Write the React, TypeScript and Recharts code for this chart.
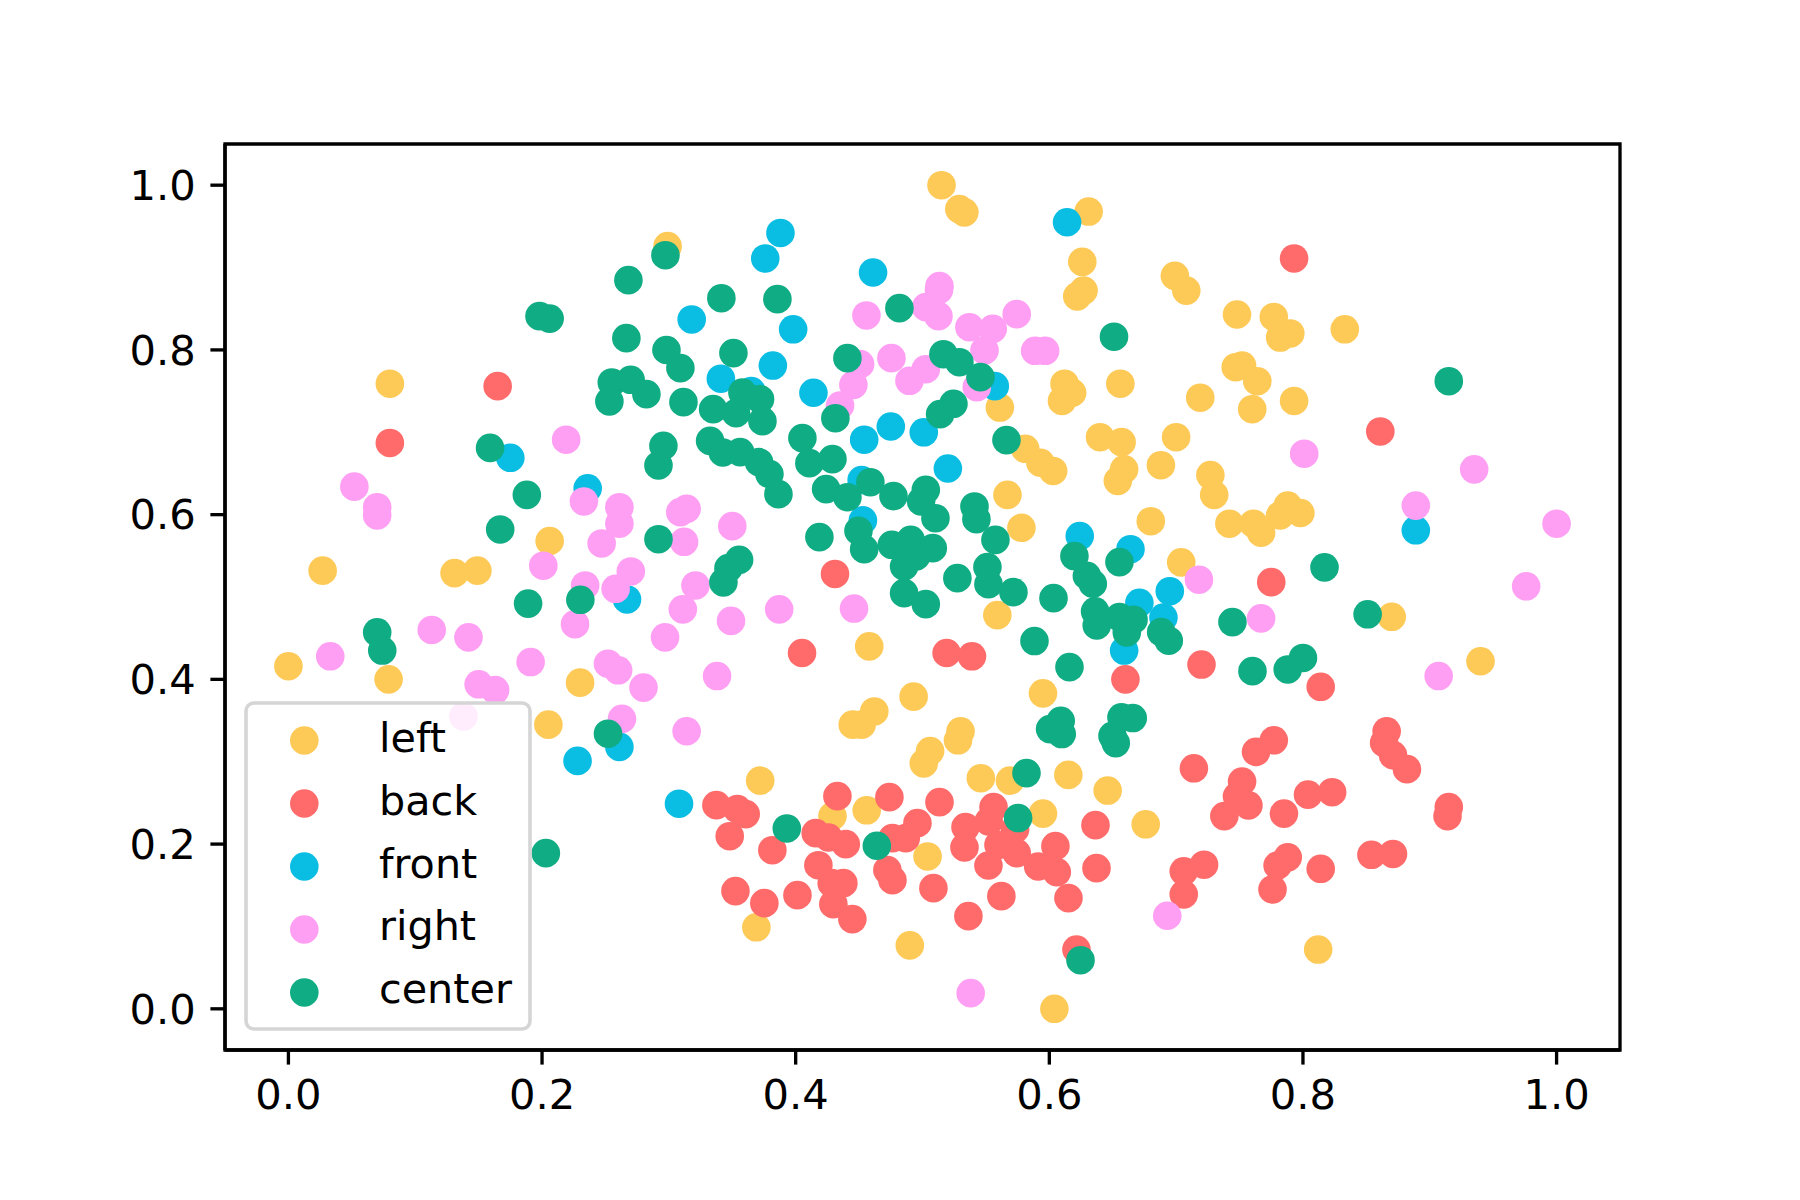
import React from "react";
import { ScatterChart, Scatter, XAxis, YAxis, ReferenceArea, Legend } from "recharts";

const tickValues = [0, 0.2, 0.4, 0.6, 0.8, 1.0];
const seriesNames = ["left", "back", "front", "right", "center"];
const seriesColors = ["#FECA57", "#FF6B6B", "#0ABDE3", "#FF9FF3", "#10AC84"];

const leftPoints = [
  [0.515,1.0],[0.529,0.971],[0.533,0.967],[0.631,0.968],[0.626,0.907],[0.627,0.872],[0.622,0.865],[0.299,0.926],
  [0.699,0.89],[0.708,0.872],[0.748,0.843],[0.777,0.84],[0.79,0.82],[0.782,0.815],[0.833,0.825],[0.656,0.759],
  [0.612,0.759],[0.618,0.748],[0.61,0.738],[0.719,0.742],[0.747,0.779],[0.752,0.781],[0.764,0.762],[0.76,0.728],
  [0.793,0.738],[0.561,0.73],[0.64,0.694],[0.657,0.688],[0.7,0.694],[0.581,0.68],[0.593,0.663],[0.603,0.653],
  [0.659,0.655],[0.654,0.641],[0.688,0.66],[0.727,0.648],[0.73,0.624],[0.567,0.624],[0.578,0.584],[0.68,0.592],
  [0.742,0.589],[0.761,0.589],[0.767,0.578],[0.782,0.599],[0.788,0.611],[0.798,0.602],[0.704,0.542],[0.559,0.478],
  [0.87,0.476],[0.94,0.422],[0.458,0.44],[0.206,0.568],[0.027,0.532],[0.131,0.529],[0.149,0.532],[0.08,0.759],
  [0,0.416],[0.079,0.4],[0.23,0.396],[0.205,0.345],[0.493,0.379],[0.595,0.383],[0.445,0.345],[0.452,0.345],
  [0.462,0.361],[0.53,0.337],[0.528,0.326],[0.506,0.313],[0.501,0.298],[0.372,0.277],[0.546,0.28],[0.569,0.277],
  [0.615,0.284],[0.646,0.265],[0.676,0.224],[0.595,0.237],[0.456,0.241],[0.429,0.234],[0.504,0.185],[0.369,0.099],
  [0.49,0.077],[0.604,0],[0.812,0.072],
];

const backPoints = [
  [0.793,0.911],[0.165,0.756],[0.08,0.687],[0.861,0.701],[0.431,0.528],[0.775,0.518],[0.405,0.432],[0.519,0.432],
  [0.539,0.428],[0.66,0.4],[0.72,0.418],[0.814,0.391],[0.866,0.337],[0.864,0.323],[0.871,0.308],[0.882,0.291],
  [0.777,0.326],[0.763,0.312],[0.714,0.292],[0.752,0.276],[0.748,0.258],[0.757,0.247],[0.738,0.234],[0.785,0.237],
  [0.804,0.26],[0.823,0.263],[0.915,0.245],[0.914,0.234],[0.854,0.187],[0.871,0.188],[0.814,0.17],[0.788,0.184],
  [0.78,0.174],[0.776,0.145],[0.722,0.175],[0.706,0.167],[0.706,0.139],[0.3375,0.2473],[0.354,0.2424],[0.3606,0.2364],
  [0.348,0.2096],[0.3816,0.1926],[0.4158,0.2133],[0.4258,0.208],[0.4395,0.1999],[0.4329,0.2582],[0.4739,0.257],
  [0.496,0.2254],[0.5134,0.2509],[0.4763,0.2072],[0.4868,0.2072],[0.5339,0.2206],[0.5331,0.1959],[0.556,0.2449],
  [0.5522,0.2275],[0.573,0.2181],[0.5599,0.1991],[0.5743,0.189],[0.552,0.174],[0.5912,0.1728],[0.6048,0.1975],
  [0.6059,0.166],[0.6364,0.223],[0.6372,0.1708],[0.6151,0.1344],[0.5622,0.1368],[0.5362,0.1125],[0.5086,0.1465],
  [0.4763,0.1562],[0.4723,0.1684],[0.4179,0.1744],[0.4284,0.1526],[0.4376,0.1526],[0.4297,0.1271],[0.4447,0.1089],
  [0.4014,0.138],[0.3753,0.1283],[0.3525,0.1429],[0.6214,0.072],
];

const frontPoints = [
  [0.614,0.955],[0.388,0.942],[0.376,0.911],[0.461,0.894],[0.318,0.837],[0.398,0.825],[0.341,0.765],[0.382,0.781],
  [0.414,0.748],[0.557,0.756],[0.454,0.691],[0.475,0.707],[0.501,0.7],[0.52,0.656],[0.175,0.669],[0.236,0.632],
  [0.452,0.642],[0.453,0.593],[0.624,0.574],[0.664,0.558],[0.889,0.581],[0.671,0.493],[0.695,0.507],[0.69,0.475],
  [0.659,0.435],[0.267,0.497],[0.228,0.301],[0.261,0.318],[0.308,0.249],[0.365,0.75],
];

const rightPoints = [
  [0.052,0.634],[0.07,0.609],[0.07,0.599],[0.219,0.691],[0.233,0.616],[0.261,0.609],[0.261,0.589],[0.247,0.565],
  [0.201,0.538],[0.234,0.514],[0.27,0.531],[0.258,0.51],[0.309,0.603],[0.314,0.607],[0.312,0.567],[0.35,0.586],
  [0.321,0.514],[0.311,0.485],[0.349,0.471],[0.387,0.485],[0.297,0.451],[0.226,0.467],[0.113,0.46],[0.142,0.451],
  [0.191,0.421],[0.033,0.428],[0.15,0.394],[0.163,0.387],[0.138,0.355],[0.252,0.419],[0.26,0.411],[0.28,0.39],
  [0.263,0.352],[0.338,0.404],[0.314,0.337],[0.446,0.486],[0.718,0.521],[0.767,0.474],[0.801,0.674],[0.889,0.611],
  [0.935,0.655],[1.0,0.589],[0.976,0.513],[0.907,0.404],[0.693,0.113],[0.538,0.019],[0.4558,0.8418],[0.5134,0.8774],
  [0.513,0.873],[0.5028,0.8519],[0.5126,0.841],[0.537,0.8276],[0.5554,0.8256],[0.5743,0.8434],[0.5489,0.7993],
  [0.5888,0.7989],[0.5967,0.7989],[0.4508,0.7827],[0.4455,0.7576],[0.435,0.7325],[0.4755,0.79],[0.5026,0.7766],
  [0.4897,0.7625],[0.5428,0.7548],
];

const centerPoints = [
  [0.2973,0.915],[0.2681,0.8847],[0.3414,0.8628],[0.3856,0.8616],[0.4818,0.8507],[0.206,0.838],[0.198,0.841],
  [0.2665,0.8143],[0.2981,0.7999],[0.3091,0.7779],[0.3509,0.7961],[0.255,0.7605],[0.2699,0.7637],[0.2823,0.7463],
  [0.2531,0.7374],[0.3115,0.7366],[0.3349,0.7281],[0.358,0.7483],[0.3719,0.7402],[0.353,0.7232],[0.3738,0.7135],
  [0.4408,0.79],[0.5165,0.7948],[0.5291,0.7851],[0.5457,0.7669],[0.5244,0.7346],[0.5139,0.722],[0.4313,0.7171],
  [0.5662,0.6905],[0.4053,0.6929],[0.4108,0.6625],[0.429,0.6674],[0.2957,0.6836],[0.2918,0.6597],[0.3325,0.6896],
  [0.3425,0.6755],[0.3562,0.6759],[0.3711,0.6637],[0.3793,0.6492],[0.3864,0.6249],[0.424,0.631],[0.4408,0.6212],
  [0.4589,0.6394],[0.4771,0.6225],[0.5026,0.6301],[0.4989,0.616],[0.5102,0.5957],[0.541,0.6099],[0.5425,0.5945],
  [0.5575,0.5694],[0.4187,0.5727],[0.2918,0.5702],[0.4495,0.5804],[0.454,0.5581],[0.4758,0.5634],[0.4907,0.5694],
  [0.5081,0.5593],[0.4949,0.5492],[0.4855,0.5371],[0.4855,0.5047],[0.5026,0.4913],[0.5275,0.5229],[0.5512,0.5363],
  [0.552,0.5156],[0.5717,0.5059],[0.6033,0.4986],[0.3554,0.5452],[0.347,0.535],[0.343,0.5177],[0.2302,0.4966],
  [0.6198,0.5497],[0.6296,0.5258],[0.6343,0.5161],[0.6553,0.5424],[0.6361,0.4825],[0.6374,0.4655],[0.6553,0.4756],
  [0.6664,0.4724],[0.6611,0.457],[0.6882,0.4574],[0.6942,0.4469],[0.7444,0.4695],[0.5883,0.4465],[0.6159,0.4149],
  [0.7602,0.41],[0.788,0.412],[0.8,0.426],[0.609,0.3497],[0.6006,0.3396],[0.6098,0.3336],[0.6569,0.3538],
  [0.6658,0.353],[0.6498,0.3315],[0.6524,0.3226],[0.582,0.2862],[0.5754,0.2316],[0.915,0.762],[0.651,0.816],
  [0.817,0.536],[0.851,0.479],[0.159,0.681],[0.188,0.624],[0.167,0.582],[0.189,0.492],[0.07,0.457],[0.074,0.435],
  [0.252,0.334],[0.203,0.189],[0.393,0.219],[0.464,0.198],[0.6246,0.059],
];

const seriesPoints = [leftPoints, backPoints, frontPoints, rightPoints, centerPoints];
const toRows = (pts: number[][]) => pts.map(([x, y]) => ({ x, y }));

const FONT = "'DejaVu Sans', sans-serif";
const FS = 41.67;
const LW = 3.33;
const R = 14.3;

const Dot = (props: any) => <circle cx={props.cx} cy={props.cy} r={R} fill={props.fill} />;

function LegendBox() {
  const rowY = [37.5, 100.5, 163.5, 226.5, 289.5];
  const textY = [49, 112, 174.5, 237, 300];
  return (
    <svg width={284} height={326} style={{ display: "block", overflow: "visible" }}>
      <rect x={0} y={0} width={284} height={326} rx={8} ry={8} fill="#fff" fillOpacity={0.8} stroke="#d5d5d5" strokeWidth={3.6} />
      {seriesNames.map((n, i) => (
        <g key={n}>
          <circle cx={58.3} cy={rowY[i]} r={R} fill={seriesColors[i]} />
          <text x={133} y={textY[i]} fontSize={41.3} fontFamily={FONT} fill="#000">{n}</text>
        </g>
      ))}
    </svg>
  );
}

export default function App() {
  return (
    <div style={{ position: "absolute", left: 0, top: 0, width: 1800, height: 1200, background: "#fff" }}>
      <ScatterChart width={1800} height={1200} margin={{ top: 144, right: 180, bottom: 70, left: 95 }}>
        <XAxis
          type="number" dataKey="x" domain={[-0.05, 1.05]} ticks={tickValues} interval={0} height={80}
          tickFormatter={(v: number) => v.toFixed(1)} tick={{ fontSize: FS, fill: "#000", fontFamily: FONT }}
          stroke="#000" strokeWidth={LW} tickSize={14.6} tickMargin={14.6} allowDataOverflow
        />
        <YAxis
          type="number" dataKey="y" domain={[-0.05, 1.05]} ticks={tickValues} interval={0} width={130}
          tickFormatter={(v: number) => v.toFixed(1)} tick={{ fontSize: FS, fill: "#000", fontFamily: FONT }}
          stroke="#000" strokeWidth={LW} tickSize={14.6} tickMargin={14.6} allowDataOverflow
        />
        {seriesNames.map((n, i) => (
          <Scatter key={n} name={n} data={toRows(seriesPoints[i])} fill={seriesColors[i]} shape={Dot} isAnimationActive={false} />
        ))}
        <ReferenceArea x1={-0.05} x2={1.05} y1={-0.05} y2={1.05} fill="none" stroke="#000" strokeWidth={LW} ifOverflow="visible" />
        <Legend
          layout="vertical" align="center" verticalAlign="middle" itemSorter={null}
          wrapperStyle={{ position: "absolute", left: 246, top: 703, width: 284, height: 326, margin: 0 }}
          content={() => <LegendBox />}
        />
      </ScatterChart>
    </div>
  );
}
